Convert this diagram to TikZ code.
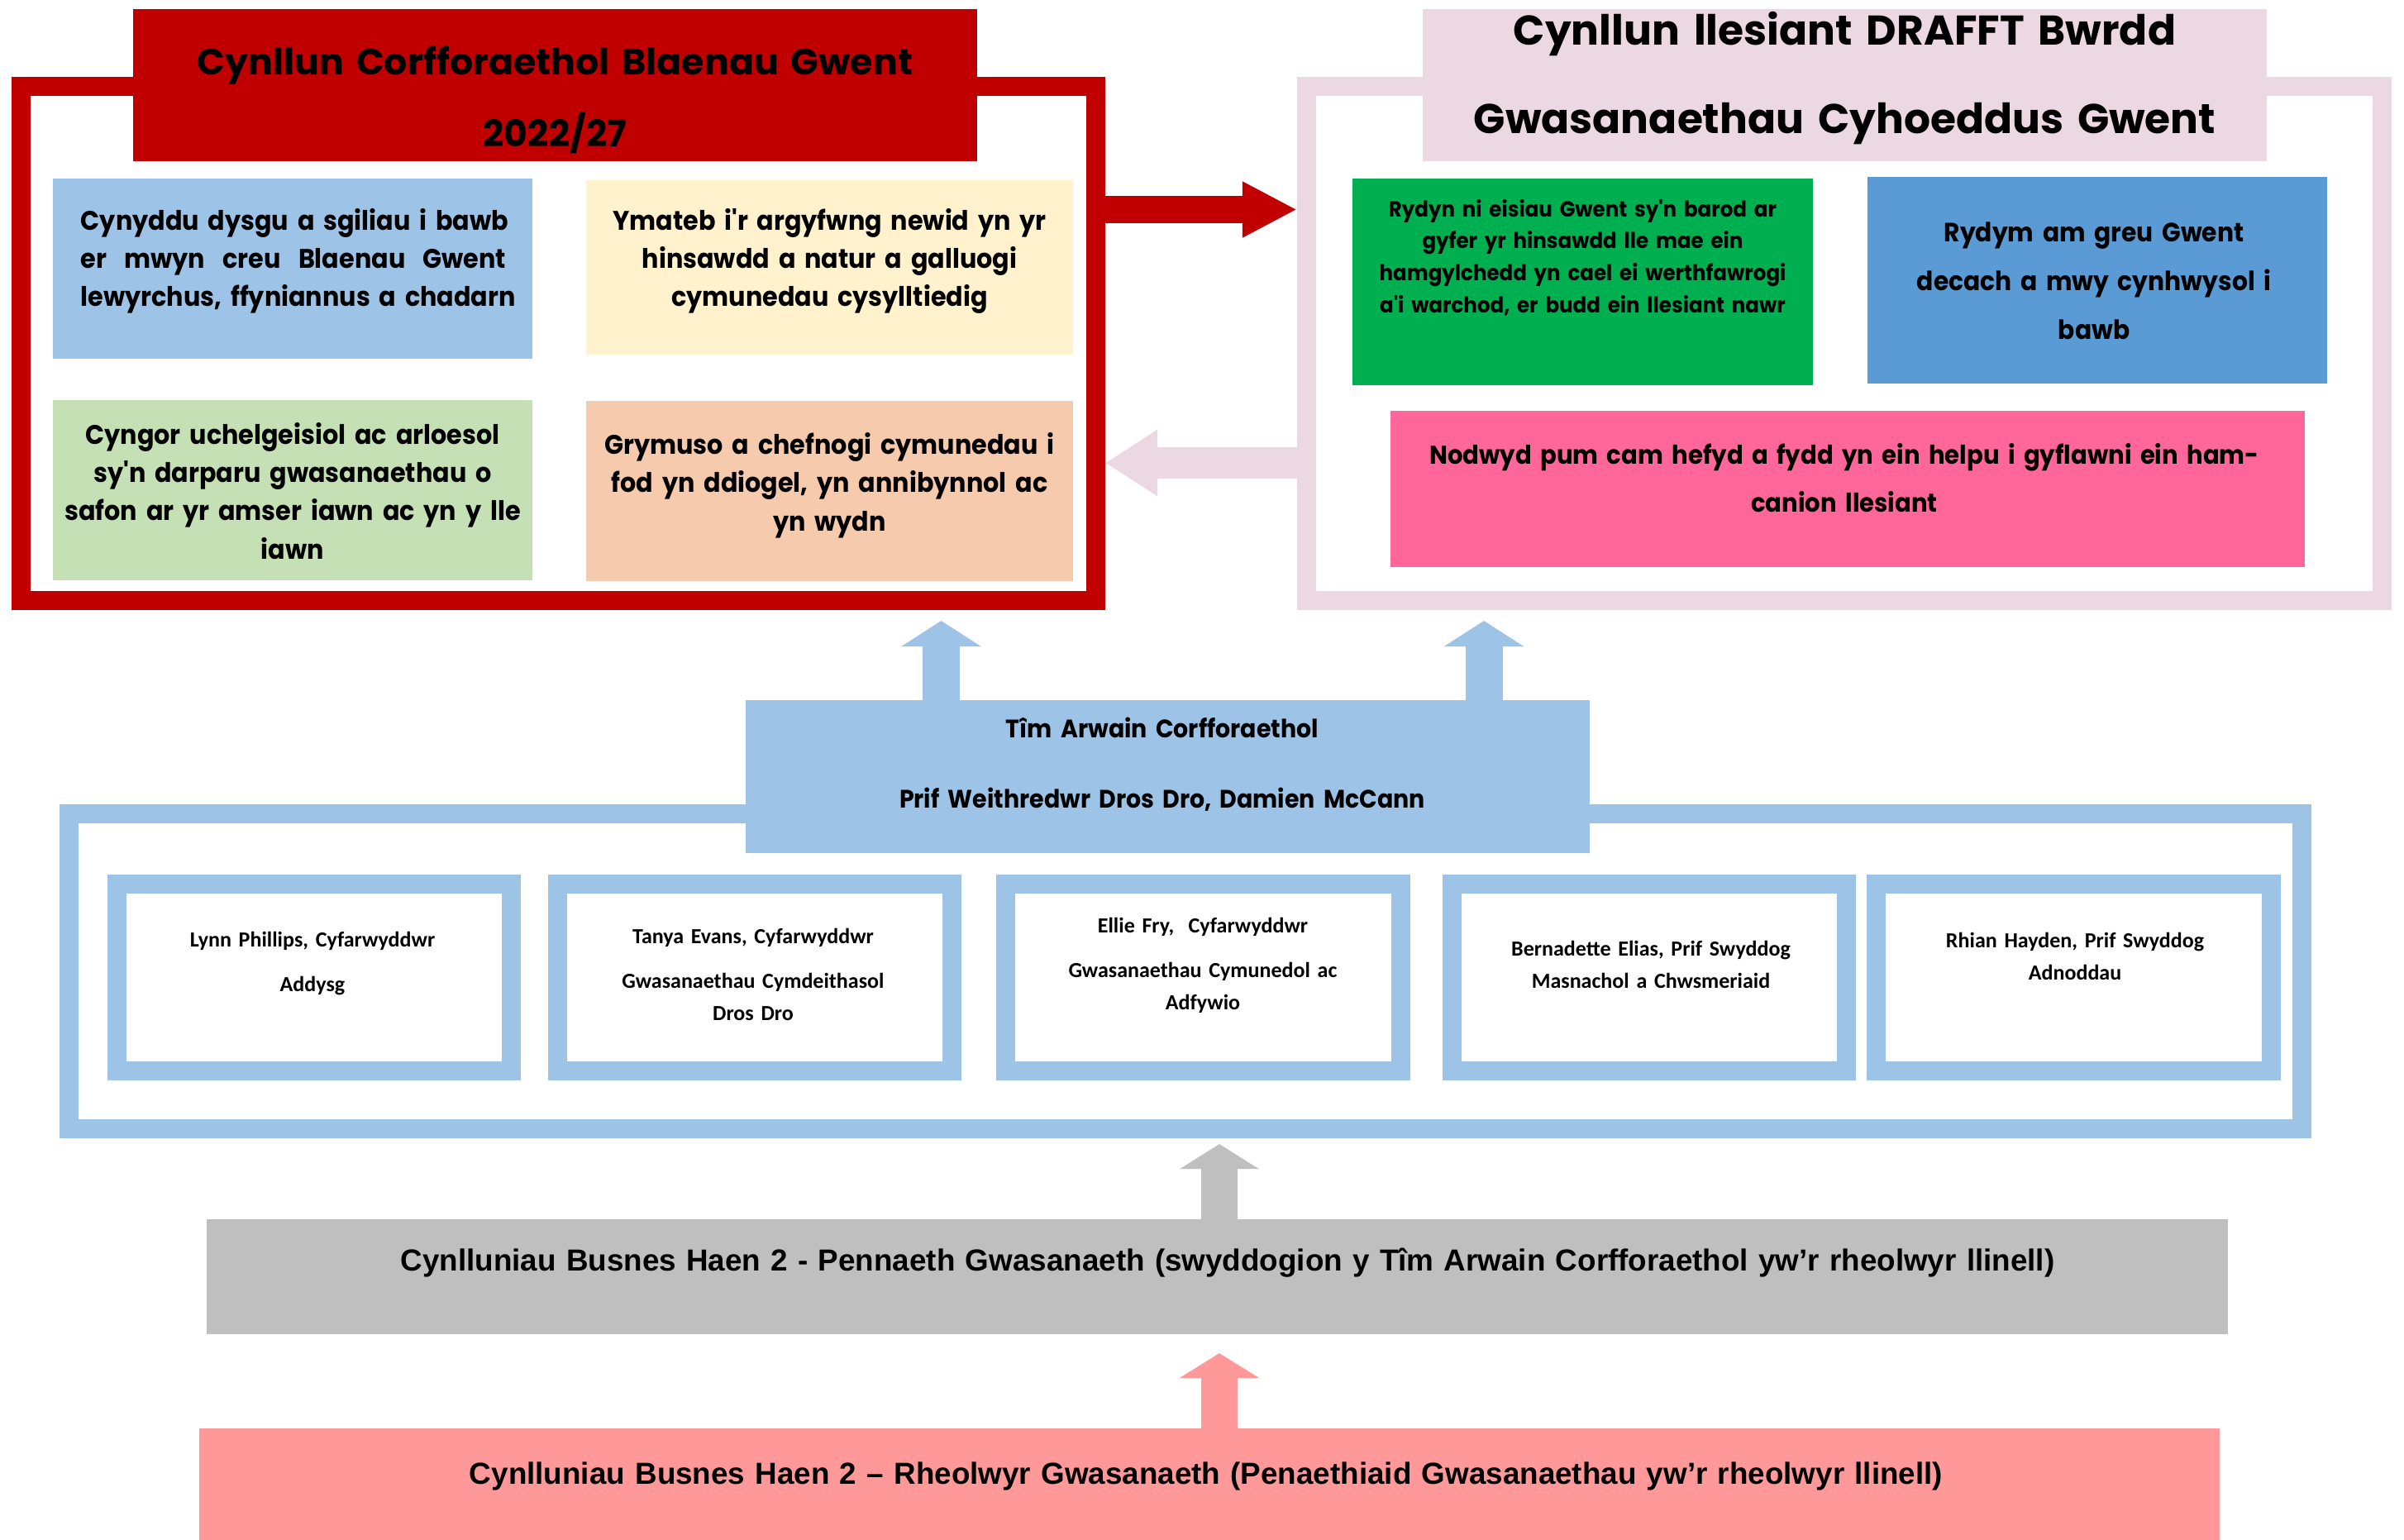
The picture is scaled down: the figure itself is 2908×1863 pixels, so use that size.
\documentclass[tikz,border=0pt]{standalone}
\usepackage{fontspec}
\setmainfont{Poppins}
\newfontfamily\gothf{Poppins}[FakeStretch=0.93]
\newfontfamily\gothw{Poppins}
\newfontfamily\calf{Carlito}
\newfontfamily\arialf{Liberation Sans}
\usetikzlibrary{arrows.meta}
\definecolor{cred}{RGB}{192,0,0}
\definecolor{cmauve}{RGB}{235,216,226}
\definecolor{cblue}{RGB}{157,195,230}
\definecolor{cyellow}{RGB}{255,242,204}
\definecolor{cgreenl}{RGB}{197,224,180}
\definecolor{cpeach}{RGB}{246,203,173}
\definecolor{cgreen}{RGB}{0,176,80}
\definecolor{cbluem}{RGB}{91,155,213}
\definecolor{cpink}{RGB}{255,102,153}
\definecolor{cgray}{RGB}{191,191,191}
\definecolor{csalmon}{RGB}{255,153,153}
\newcommand\mybox[6]{\node[fbox,#6, minimum width={(#4-#2)*0.01cm}, minimum height={(#5-#3)*0.01cm}] (#1) at ({(#2+#4)/2},{(#3+#5)/2}) {};}
\newcommand\myframe[6]{\node[frm=#6, minimum width={(#4-#2-23)*0.01cm}, minimum height={(#5-#3-23)*0.01cm}] (#1) at ({(#2+#4)/2},{(#3+#5)/2}) {};}
\newcommand\fullline[1]{\leavevmode\hbox to 5.14cm{#1}}
\tikzset{
  fbox/.style={inner sep=0pt, outer sep=0pt, draw=none},
  frm/.style={draw=#1, fill=white, line width=0.23cm, inner sep=0pt},
  txt/.style={inner sep=0pt, anchor=base, align=center, text width=#1},
  gth/.style 2 args={font={\gothf\bfseries\fontsize{#1}{#2}\selectfont}},
  gtw/.style 2 args={font={\gothw\bfseries\fontsize{#1}{#2}\selectfont}},
  clb/.style={font={\calf\bfseries\fontsize{7.4pt}{11.1pt}\selectfont}},
  arl/.style={font={\arialf\bfseries\fontsize{10.47pt}{13pt}\selectfont}},
  blockarrow/.style n args={4}{draw=#1, line width=#2, -{Triangle[width=#3,length=#4]}},
}
\begin{document}
\begin{tikzpicture}[x=0.01cm, y=-0.01cm]
\useasboundingbox (0,0) rectangle (2908,1863);
\fill[white] (0,0) rectangle (2908,1863);
% top frames
\myframe{lframe}{14}{93}{1337}{738}{cred}
\myframe{rframe}{1569}{93}{2893}{738}{cmauve}
\mybox{ltitle}{161}{11}{1182}{195}{fill=cred}
\mybox{rtitle}{1721}{11}{2742}{195}{fill=cmauve}
\node[txt=10cm, gtw={12.6pt}{24.8pt}] (ltitletxt) at (671.5,90) {Cynllun Corfforaethol Blaenau Gwent\\2022/27};
\node[txt=10cm, gtw={14.3pt}{30.7pt}] (rtitletxt) at (2231.5,54) {Cynllun llesiant DRAFFT Bwrdd\\Gwasanaethau Cyhoeddus Gwent};
% left inner boxes
\mybox{lb1}{64}{216}{644}{434}{fill=cblue}
\mybox{lb2}{709}{218}{1298}{429}{fill=cyellow}
\mybox{lb3}{64}{484}{644}{702}{fill=cgreenl}
\mybox{lb4}{709}{485}{1298}{703}{fill=cpeach}
\node[txt=5.14cm, gth={9.25pt}{13.1pt}, align=left] (lb1t) at (355,278) {\fullline{Cynyddu\hfil\ dysgu\hfil\ a\hfil\ sgiliau\hfil\ i\hfil\ bawb}\\\fullline{er\hfil\ mwyn\hfil\ creu\hfil\ Blaenau\hfil\ Gwent}\\\mbox{lewyrchus, ffyniannus a chadarn}};
\node[txt=5.8cm, gth={9.25pt}{13.1pt}] (lb2t) at (1003.5,278) {Ymateb i'r argyfwng newid yn yr\\hinsawdd a natur a galluogi\\cymunedau cysylltiedig};
\node[txt=5.8cm, gth={9.25pt}{13.2pt}] (lb3t) at (354,537) {Cyngor uchelgeisiol ac arloesol\\sy'n darparu gwasanaethau o\\safon ar yr amser iawn ac yn y lle\\iawn};
\node[txt=5.8cm, gth={9.25pt}{13.3pt}] (lb4t) at (1003.5,549) {Grymuso a chefnogi cymunedau i\\fod yn ddiogel, yn annibynnol ac\\yn wydn};
% right inner boxes
\mybox{rb1}{1636}{216}{2193}{466}{fill=cgreen}
\mybox{rb2}{2259}{214}{2815}{464}{fill=cbluem}
\mybox{rb3}{1682}{497}{2788}{686}{fill=cpink}
\node[txt=5.5cm, gth={7.5pt}{11pt}] (rb1t) at (1914.5,262) {Rydyn ni eisiau Gwent sy'n barod ar\\gyfer yr hinsawdd lle mae ein\\hamgylchedd yn cael ei werthfawrogi\\a'i warchod, er budd ein llesiant nawr};
\node[txt=5.5cm, gth={9.1pt}{16.9pt}] (rb2t) at (2533,292) {Rydym am greu Gwent\\decach a mwy cynhwysol i\\bawb};
\node[txt=11cm, gth={8.9pt}{16.5pt}] (rb3t) at (2231,561) {Nodwyd pum cam hefyd a fydd yn ein helpu i gyflawni ein ham-\\canion llesiant};
% arrows between plans
\draw[blockarrow={cred}{0.33cm}{0.63cm}{0.66cm}] (lframe.east |- 0,253.5) -- (rframe.west |- 0,253.5);
\draw[blockarrow={cmauve}{0.38cm}{0.76cm}{0.63cm}] (rframe.west |- 0,560) -- (lframe.east |- 0,560);
% leadership team
\myframe{bigframe}{72}{973}{2796}{1377}{cblue}
\mybox{tim}{902}{847}{1923}{1032}{fill=cblue}
\node[txt=10cm, gth={8.7pt}{24.2pt}] (timt) at (1406,892) {T\^{\i}m Arwain Corfforaethol\\Prif Weithredwr Dros Dro, Damien McCann};
\draw[blockarrow={cblue}{0.45cm}{0.95cm}{0.31cm}, shorten >=0.13cm] (tim.north -| 1138.5,0) -- (lframe.south -| 1138.5,0);
\draw[blockarrow={cblue}{0.45cm}{0.95cm}{0.31cm}, shorten >=0.13cm] (tim.north -| 1795,0) -- (rframe.south -| 1795,0);
% directors
\myframe{d1}{130}{1058}{630}{1307}{cblue}
\myframe{d2}{663}{1058}{1163}{1307}{cblue}
\myframe{d3}{1205}{1058}{1706}{1307}{cblue}
\myframe{d4}{1745}{1058}{2245}{1307}{cblue}
\myframe{d5}{2258}{1058}{2759}{1307}{cblue}
\node[txt=4.4cm, clb] (d1t) at (378,1145) {Lynn Phillips, Cyfarwyddwr\\[4.5pt]Addysg};
\node[txt=4.4cm, clb] (d2t) at (911,1141) {Tanya Evans, Cyfarwyddwr\\[4.5pt]Gwasanaethau Cymdeithasol\\Dros Dro};
\node[txt=4.4cm, clb] (d3t) at (1455,1128) {Ellie Fry,\ \ Cyfarwyddwr\\[4.5pt]Gwasanaethau Cymunedol ac\\Adfywio};
\node[txt=4.4cm, clb] (d4t) at (1997,1156) {Bernadette Elias, Prif Swyddog\\Masnachol a Chwsmeriaid};
\node[txt=4.4cm, clb] (d5t) at (2510,1146) {Rhian Hayden, Prif Swyddog\\Adnoddau};
% tier 2 plans
\mybox{tier2a}{250}{1475}{2695}{1614}{fill=cgray}
\mybox{tier2b}{241}{1728}{2685}{1863}{fill=csalmon}
\node[txt=24cm, arl] (tier2at) at (1485,1537) {Cynlluniau Busnes Haen 2 - Pennaeth Gwasanaeth (swyddogion y T\^{\i}m Arwain Corfforaethol yw’r rheolwyr llinell)};
\node[txt=24cm, arl] (tier2bt) at (1459,1795) {Cynlluniau Busnes Haen 2 – Rheolwyr Gwasanaeth (Penaethiaid Gwasanaethau yw’r rheolwyr llinell)};
\draw[blockarrow={cgray}{0.44cm}{0.94cm}{0.30cm}, shorten >=0.07cm] (tier2a.north -| 1475,0) -- (bigframe.south -| 1475,0);
\draw[blockarrow={csalmon}{0.44cm}{0.95cm}{0.30cm}, shorten >=0.23cm] (tier2b.north -| 1475,0) -- (tier2a.south -| 1475,0);
\end{tikzpicture}
\end{document}
